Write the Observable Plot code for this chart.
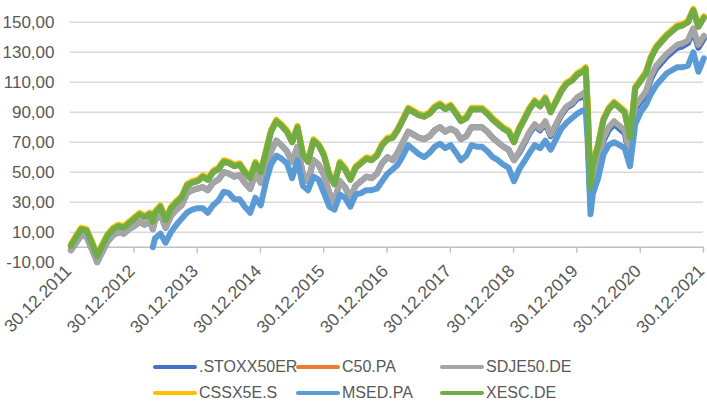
<!DOCTYPE html>
<html><head><meta charset="utf-8">
<script src="https://cdn.jsdelivr.net/npm/d3@7"></script>
<script src="https://cdn.jsdelivr.net/npm/@observablehq/plot@0.6"></script>
<style>
body{margin:0;background:#fff;font-family:"Liberation Sans",Arial,sans-serif;}
#wrap{position:relative;width:707px;height:409px;overflow:hidden;background:#fff}
#legend{position:absolute;left:0;top:345px;width:707px;height:64px;}
.item{position:absolute;display:flex;align-items:center;font-size:16px;color:#595959;height:20px;line-height:20px;white-space:nowrap}
.sw{width:44px;height:4px;border-radius:2px;margin-right:2px}
</style></head><body><div id="wrap"><div id="chart"></div><div id="legend"></div></div>
<script>
const dates = [
"2012-01","2012-02","2012-03","2012-04","2012-05","2012-06","2012-07","2012-08","2012-09","2012-10","2012-11","2012-12",
"2013-01","2013-02","2013-03","2013-04","2013-04-18","2013-05","2013-06","2013-07","2013-08","2013-09","2013-10","2013-11","2013-12",
"2014-01","2014-02","2014-03","2014-04","2014-05","2014-06","2014-07","2014-08","2014-09","2014-10","2014-11","2014-12",
"2015-01","2015-02","2015-03","2015-04","2015-05","2015-06","2015-07","2015-08","2015-09","2015-10","2015-11","2015-12",
"2016-01","2016-02","2016-03","2016-04","2016-05","2016-06","2016-07","2016-08","2016-09","2016-10","2016-11","2016-12",
"2017-01","2017-02","2017-03","2017-04","2017-05","2017-06","2017-07","2017-08","2017-09","2017-10","2017-11","2017-12",
"2018-01","2018-02","2018-03","2018-04","2018-05","2018-06","2018-07","2018-08","2018-09","2018-10","2018-11","2018-12",
"2019-01","2019-02","2019-03","2019-04","2019-05","2019-06","2019-07","2019-08","2019-09","2019-10","2019-11","2019-12",
"2020-01","2020-02","2020-02-19","2020-03","2020-03-18","2020-04","2020-05","2020-06","2020-07","2020-08","2020-09","2020-10","2020-11","2020-12",
"2021-01","2021-02","2021-03","2021-04","2021-05","2021-06","2021-07","2021-08","2021-09","2021-10","2021-11","2021-12",
"2022-01"];

const stoxx50er = [
-2,3,8,7,-1,-10,-3,4,8,10,9,12,
14,17,15,17,12,18,22,13,21,25,28,36,38,
39,40,38,43,45,50,49,47,48,43,39,49,
43,51,64,71,68,64,57,67,49,44,58,55,
48,36,30,44,40,33,41,44,47,46,49,56,
60,58,63,70,77,75,73,72,74,78,80,77,
79,77,72,74,80,80,80,77,73,70,67,65,
58,63,69,76,81,78,83,74,81,88,93,95,
99,100,102,80,28,41,54,71,78,82,79,76,59,92,
97,102,112,119,123,127,130,133,134,136,144,133,
139];

const c50pa = [
1,7,12,11,3,-6,1,8,12,14,13,16,
19,22,20,22,17,23,27,18,26,30,33,41,43,
44,47,45,50,52,57,56,54,55,50,46,56,
50,64,77,84,81,77,70,80,62,57,71,68,
61,48,42,56,52,45,53,56,59,58,61,68,
72,73,78,85,92,90,88,87,89,93,95,92,
94,89,84,86,92,92,92,89,85,82,79,77,
70,79,85,92,97,94,99,90,97,104,109,111,
115,117,119,95,40,55,68,85,92,96,93,90,73,106,
111,116,126,133,137,141,144,147,148,150,158,147,
153];

const sdje50de = [
-2,3,8,7,-1,-10,-3,4,8,10,9,12,
14,17,15,17,12,18,22,13,21,25,28,36,38,
39,40,38,43,45,50,49,47,48,43,39,49,
43,51,64,71,68,64,57,67,49,44,58,55,
48,36,30,44,40,33,41,44,47,46,49,56,
60,58,63,70,77,75,73,72,74,78,80,77,
79,77,72,74,80,80,80,77,73,70,67,65,
58,64,70,77,82,79,84,75,82,89,94,96,
100,102,104,82,30,43,56,73,80,84,81,78,61,94,
99,104,114,121,125,129,132,135,136,138,146,135,
141];

const cssx5es = [
2,8,13,12,4,-5,2,9,13,15,14,17,
20,23,21,23,18,24,28,19,27,31,34,42,44,
45,48,46,51,53,58,57,55,56,51,47,57,
51,65,78,85,82,78,71,81,63,58,72,69,
62,49,43,57,53,46,54,57,60,59,62,69,
73,74,79,86,93,91,89,88,90,94,96,93,
95,90,85,87,93,93,93,90,86,83,80,78,
71,80,86,93,98,95,100,91,98,105,110,112,
116,118,120,96,41,56,69,86,93,97,94,91,74,107,
112,117,127,134,138,142,145,148,149,151,159,148,
154];

const msedpa = [
null,null,null,null,null,null,null,null,null,null,null,null,
null,null,null,null,0,6,9,3,10,15,19,23,25,
26,26,23,28,31,37,36,32,32,27,23,33,
28,44,55,61,59,56,46,58,41,38,47,45,
36,27,25,35,33,27,35,36,38,38,39,44,
49,52,55,61,68,65,62,60,63,67,69,66,
68,63,58,61,68,67,67,64,60,58,55,53,
44,52,57,63,68,66,71,65,72,79,83,86,
89,91,92,72,22,36,46,62,68,70,68,66,54,82,
90,95,102,108,112,116,118,120,120,121,130,117,
126];

const xescde = [
1,7,12,11,3,-6,1,8,12,14,13,16,
19,22,20,22,17,23,27,18,26,30,33,41,43,
44,47,45,50,52,57,56,54,55,50,46,56,
50,64,77,84,81,77,70,80,62,57,71,68,
61,48,42,56,52,45,53,56,59,58,61,68,
72,73,78,85,92,90,88,87,89,93,95,92,
94,89,84,86,92,92,92,89,85,82,79,77,
70,79,85,92,97,94,99,90,97,104,109,111,
115,117,119,95,40,55,68,85,92,96,93,90,73,106,
111,116,126,133,137,141,144,147,148,150,158,147,
153];

const seriesNames = [".STOXX50ER","C50.PA","SDJE50.DE","CSSX5E.S","MSED.PA","XESC.DE"];
const seriesValues = [stoxx50er, c50pa, sdje50de, cssx5es, msedpa, xescde];
const colors = ["#4472C4","#ED7D31","#A5A5A5","#FFC000","#5B9BD5","#70AD47"];
const yTicks = [-10,10,30,50,70,90,110,130,150];
const gridValues = [10,30,50,70,90,110,130,150];
const xTickLabels = ["30.12.2011","30.12.2012","30.12.2013","30.12.2014","30.12.2015","30.12.2016","30.12.2017","30.12.2018","30.12.2019","30.12.2020","30.12.2021"];

const parseTick = d3.utcParse("%d.%m.%Y");
const xTicks = xTickLabels.map(parseTick);
const W = 707, H = 345, plotBottom = 261.7;

const lineMarks = seriesValues.map((vals, k) => {
  const data = dates.map((d, i) => ({date: new Date(d), value: vals[i]})).filter(r => r.value != null);
  return Plot.line(data, {x: "date", y: "value", stroke: colors[k], strokeWidth: 6, strokeLinejoin: "round", strokeLinecap: "round"});
});

const chart = Plot.plot({
  width: W, height: H,
  marginLeft: 70, marginRight: 4, marginTop: 0, marginBottom: H - plotBottom,
  x: {type: "utc", domain: [xTicks[0], xTicks[xTicks.length - 1]], axis: null},
  y: {domain: [-10, 164.5], ticks: yTicks, tickSize: 0, tickPadding: 16, tickFormat: d => d.toFixed(2).replace(".", ","), label: null},
  style: {fontFamily: "'Liberation Sans', Arial, sans-serif", fontSize: "17px", color: "#595959", background: "#fff", overflow: "visible"},
  marks: [
    Plot.ruleY(gridValues, {stroke: "#d9d9d9", strokeWidth: 1.4}),
    Plot.ruleY([0], {stroke: "#bfbfbf", strokeWidth: 1.4}),
    Plot.ruleX(xTicks, {x: d => d, y1: 0, y2: -4, stroke: "#bfbfbf", strokeWidth: 1.4}),
    ...lineMarks,
    Plot.text(xTickLabels, {x: d => parseTick(d), frameAnchor: "bottom", text: d => d, rotate: -45, textAnchor: "end", dx: 2, dy: 10, fontSize: 17.5, fill: "#595959"})
  ]
});
document.getElementById("chart").appendChild(chart);

const legendPos = [[153, 22], [296, 22], [440, 22], [153, 48], [296, 48], [440, 48]];
const legend = document.getElementById("legend");
seriesNames.forEach((name, k) => {
  const it = document.createElement("div");
  it.className = "item";
  it.style.left = legendPos[k][0] + "px";
  it.style.top = (legendPos[k][1] - 10) + "px";
  it.innerHTML = `<span class="sw" style="background:${colors[k]}"></span><span>${name}</span>`;
  legend.appendChild(it);
});
</script></body></html>
